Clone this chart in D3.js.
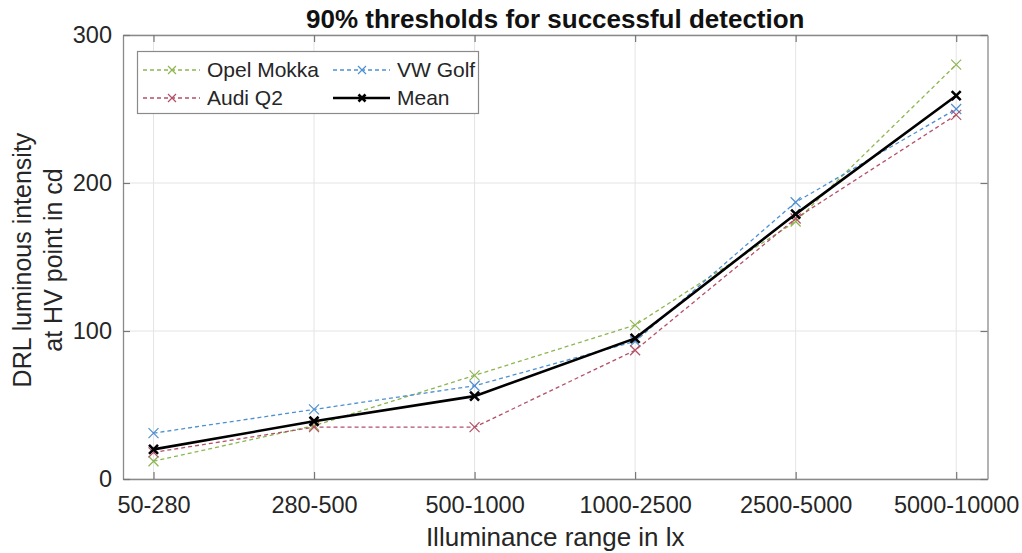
<!DOCTYPE html>
<html>
<head>
<meta charset="utf-8">
<script src="https://cdn.jsdelivr.net/npm/d3@7"></script>
<style>
  body { margin: 0; background: #fff; }
  text { font-family: "Liberation Sans", Arial, sans-serif; }
</style>
</head>
<body>
<svg width="1022" height="553"></svg>
<script>
var categories = ["50-280", "280-500", "500-1000", "1000-2500", "2500-5000", "5000-10000"];
var opelMokka = [12, 36, 70, 104, 174, 280];
var vwGolf = [31, 47, 63, 93, 187, 250];
var audiQ2 = [18, 35, 35, 87, 176, 246];
var meanVals = [20, 39, 56, 95, 179, 259];
var yTicks = [0, 100, 200, 300];

var series = [
  {name: "Opel Mokka", values: opelMokka, color: "#8db650", dash: "4,3", width: 1.3},
  {name: "VW Golf", values: vwGolf, color: "#4e90d2", dash: "4,3", width: 1.3},
  {name: "Audi Q2", values: audiQ2, color: "#b35068", dash: "4,3", width: 1.3},
  {name: "Mean", values: meanVals, color: "#000000", dash: null, width: 2.6}
];

var margins = {top: 35, bottom: 74, left: 123, right: 34.5};
var screen = {width: 1022, height: 553};
var width = screen.width - margins.left - margins.right;
var height = screen.height - margins.top - margins.bottom;

var svg = d3.select("svg");

var xScale = d3.scaleLinear().domain([0.81, 6.195]).range([0, width]);
var yScale = d3.scaleLinear().domain([0, 300]).range([height, 0]);

var plot = svg.append("g")
  .attr("transform", "translate(" + margins.left + "," + margins.top + ")");

// grid
plot.selectAll(".vgrid").data(categories).enter().append("line")
  .attr("x1", function(d, i) { return xScale(i + 1); })
  .attr("x2", function(d, i) { return xScale(i + 1); })
  .attr("y1", 0).attr("y2", height)
  .attr("stroke", "#e4e4e4").attr("stroke-width", 1);
plot.selectAll(".hgrid").data(yTicks).enter().append("line")
  .attr("x1", 0).attr("x2", width)
  .attr("y1", function(d) { return yScale(d); })
  .attr("y2", function(d) { return yScale(d); })
  .attr("stroke", "#e4e4e4").attr("stroke-width", 1);

// axes
var xAxis = d3.axisBottom(xScale)
  .tickValues(d3.range(1, categories.length + 1))
  .tickFormat(function(d) { return categories[d - 1]; })
  .tickSizeInner(-7).tickSizeOuter(0).tickPadding(17);
var gx = plot.append("g").attr("transform", "translate(0," + height + ")").call(xAxis);
var xTop = d3.axisTop(xScale)
  .tickValues(d3.range(1, categories.length + 1))
  .tickFormat("").tickSizeInner(-7).tickSizeOuter(0);
var gxt = plot.append("g").call(xTop);

var yAxis = d3.axisLeft(yScale).tickValues(yTicks)
  .tickSizeInner(-7).tickSizeOuter(0).tickPadding(11);
var gy = plot.append("g").call(yAxis);
var yRight = d3.axisRight(yScale).tickValues(yTicks)
  .tickFormat("").tickSizeInner(-7).tickSizeOuter(0);
var gyr = plot.append("g").attr("transform", "translate(" + width + ",0)").call(yRight);

[gx, gxt, gy, gyr].forEach(function(g) {
  g.select(".domain").attr("stroke", "#8a8a8a").attr("stroke-width", 1.3);
  g.selectAll(".tick line").attr("stroke", "#777").attr("stroke-width", 1.2);
  g.selectAll(".tick text").attr("fill", "#262626")
    .style("font-size", "23.5px").style("font-family", "Liberation Sans, Arial, sans-serif");
});

// lines
var line = d3.line()
  .x(function(d, i) { return xScale(i + 1); })
  .y(function(d) { return yScale(d); });

var cross = function(sel, size, color, w) {
  sel.append("path")
    .attr("d", "M" + (-size) + "," + (-size) + "L" + size + "," + size +
               "M" + (-size) + "," + size + "L" + size + "," + (-size))
    .attr("stroke", color).attr("stroke-width", w).attr("fill", "none");
};

series.forEach(function(s) {
  plot.append("path")
    .datum(s.values)
    .attr("d", line)
    .attr("fill", "none")
    .attr("stroke", s.color)
    .attr("stroke-width", s.width)
    .attr("stroke-dasharray", s.dash);
  var m = plot.selectAll(null).data(s.values).enter().append("g")
    .attr("transform", function(d, i) { return "translate(" + xScale(i + 1) + "," + yScale(d) + ")"; });
  if (s.dash) cross(m, 5, s.color, 1.2);
  else cross(m, 4.5, s.color, 2.6);
});

// legend
var legend = svg.append("g");
legend.append("rect")
  .attr("x", 137.5).attr("y", 51.5).attr("width", 341).attr("height", 62)
  .attr("fill", "#fff").attr("stroke", "#8a8a8a").attr("stroke-width", 1.2);
var legendPos = [
  {x: 143, y: 70}, {x: 333, y: 70}, {x: 143, y: 98}, {x: 333, y: 98}
];
series.forEach(function(s, i) {
  var p = legendPos[i];
  var g = legend.append("g").attr("transform", "translate(" + p.x + "," + p.y + ")");
  g.append("line").attr("x1", 0).attr("x2", 57).attr("y1", 0).attr("y2", 0)
    .attr("stroke", s.color).attr("stroke-width", s.width).attr("stroke-dasharray", s.dash);
  var mk = g.append("g").attr("transform", "translate(29,0)");
  if (s.dash) cross(mk, 4, s.color, 1.2); else cross(mk, 3.5, s.color, 2.6);
  g.append("text").attr("x", 64).attr("y", 0).attr("dy", "0.35em")
    .attr("fill", "#262626").style("font-size", "21px").text(s.name);
});

// title and labels
svg.append("text")
  .attr("x", margins.left + width / 2).attr("y", 28)
  .attr("text-anchor", "middle").attr("fill", "#111")
  .style("font-size", "26px").style("font-weight", "bold")
  .text("90% thresholds for successful detection");

svg.append("text")
  .attr("x", margins.left + width / 2).attr("y", 546)
  .attr("text-anchor", "middle").attr("fill", "#262626")
  .style("font-size", "26px")
  .text("Illuminance range in lx");

var yl = svg.append("text")
  .attr("transform", "translate(31," + (margins.top + height / 2 + 3) + ") rotate(-90)")
  .attr("text-anchor", "middle").attr("fill", "#262626")
  .style("font-size", "25px");
yl.append("tspan").attr("x", 0).attr("y", 0).text("DRL luminous intensity");
yl.append("tspan").attr("x", 0).attr("y", 31).text("at HV point in cd");
</script>
</body>
</html>
